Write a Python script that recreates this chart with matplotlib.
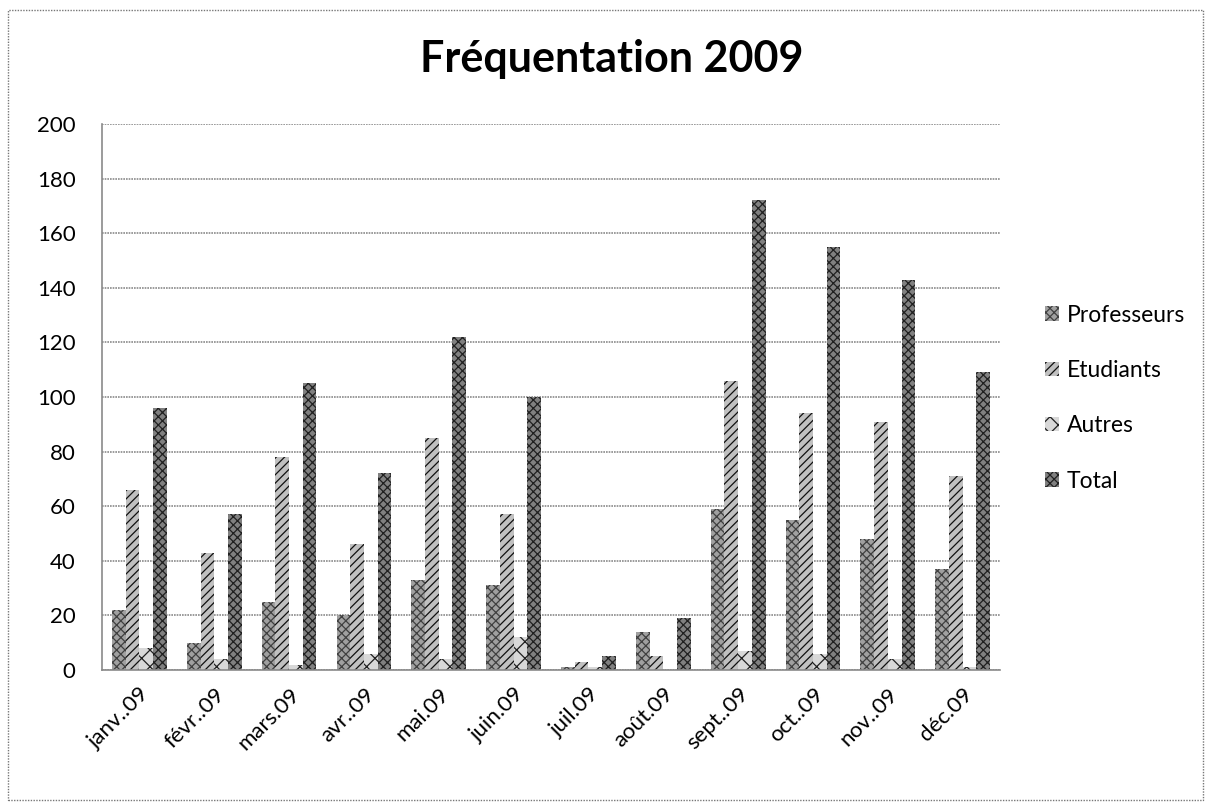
import matplotlib
matplotlib.use("Agg")
import matplotlib.pyplot as plt
import numpy as np
from matplotlib.patches import Rectangle

months = ["janv..09", "févr..09", "mars.09", "avr..09", "mai.09", "juin.09",
          "juil.09", "août.09", "sept..09", "oct..09", "nov..09", "déc.09"]
professeurs = [22, 10, 25, 20, 33, 31, 1, 14, 59, 55, 48, 37]
etudiants = [66, 43, 78, 46, 85, 57, 3, 5, 106, 94, 91, 71]
autres = [8, 4, 2, 6, 4, 12, 1, 0, 7, 6, 4, 1]
total = [96, 57, 105, 72, 122, 100, 5, 19, 172, 155, 143, 109]
series_names = ["Professeurs", "Etudiants", "Autres", "Total"]
yticks = list(range(0, 201, 20))

plt.rcParams['font.family'] = ['Lato', 'DejaVu Sans']
plt.rcParams['hatch.linewidth'] = 0.9

fig = plt.figure(figsize=(12.05, 8.02), dpi=100)
ax = fig.add_axes([0.0846, 0.1646, 0.7454, 0.6808])

x = np.arange(len(months))
w = 0.183
styles = [
    dict(facecolor='#a0a0a0', hatch='xxxx', edgecolor='#404040'),
    dict(facecolor='#c0c0c0', hatch='////', edgecolor='#101010'),
    dict(facecolor='#d8d8d8', hatch='xx', edgecolor='#202020'),
    dict(facecolor='#808080', hatch='xxxx', edgecolor='#202020'),
]
data = [professeurs, etudiants, autres, total]
for i, (vals, name, st) in enumerate(zip(data, series_names, styles)):
    ax.bar(x + (i - 1.5) * w, vals, width=w, label=name, linewidth=0, **st)

ax.set_xlim(-0.5, len(months) - 0.5)
ax.set_ylim(0, 200)
ax.set_yticks(yticks)
ax.yaxis.grid(True, color='#8a8a8a', linewidth=1.2, linestyle=(0, (1, 0.6)))
ax.set_axisbelow(True)
for s in ['top', 'right']:
    ax.spines[s].set_visible(False)
for s in ['left', 'bottom']:
    ax.spines[s].set_color('#8a8a8a')
    ax.spines[s].set_linewidth(1.2)
ax.tick_params(axis='y', length=0, pad=19, labelsize=16)
ax.tick_params(axis='x', length=0, pad=10, labelsize=16)
ax.set_xticks(x)
ax.set_xticklabels(months, rotation=45, ha='right', rotation_mode='anchor')

fig.text(0.508, 0.927, "Fréquentation 2009", ha='center', va='center',
         fontsize=31, fontweight='bold')

leg = ax.legend(loc='center left', bbox_to_anchor=(1.027, 0.498), frameon=False,
                fontsize=16.5, labelspacing=1.5, handlelength=0.6,
                handleheight=0.6, handletextpad=0.35)

fig.patches.append(Rectangle((0.007, 0.002), 0.991, 0.985, transform=fig.transFigure,
                             fill=False, edgecolor='#777777', linewidth=1.0,
                             linestyle=(0, (1, 1))))

fig.savefig("out.png", dpi=100)
